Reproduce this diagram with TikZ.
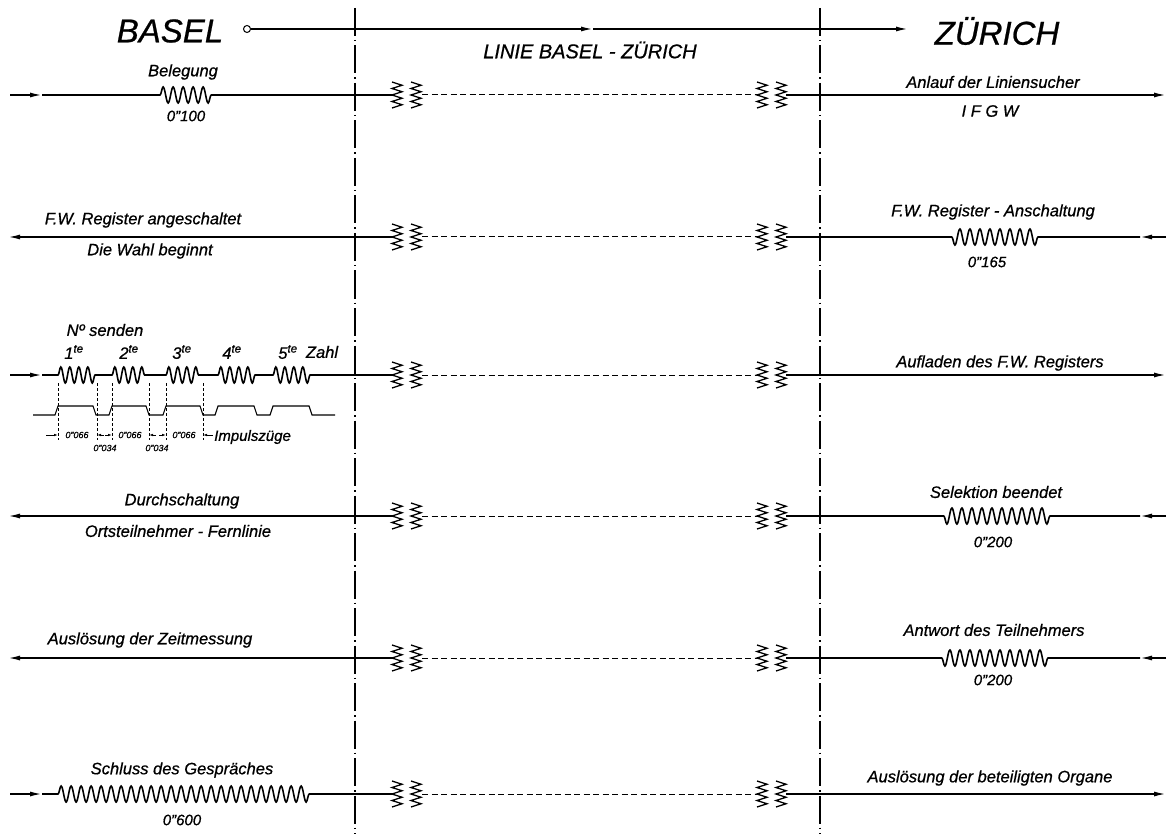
\documentclass[tikz,border=0pt]{standalone}
\usepackage{fontspec}
\setmainfont{Liberation Sans}[ItalicFeatures={FakeBold=0.7}]
\usetikzlibrary{arrows.meta,decorations.pathmorphing,positioning}

\begin{document}
\begin{tikzpicture}[x=1pt,y=-1pt,
    wire/.style={line width=1.6pt},
    tipend/.style={-{Latex[length=12pt,width=5pt]}},
    winding/.style={decoration={snake,segment length=10pt,amplitude=8pt}},
    shortwinding/.style={decoration={snake,segment length=9pt,amplitude=8pt}},
    border/.style={line width=1.1pt,dash pattern=on 28pt off 4pt on 1.5pt off 4pt},
    big/.style={font=\fontsize{33}{36}\selectfont\itshape,inner sep=0pt},
    head/.style={font=\fontsize{20}{24}\selectfont\itshape,inner sep=0pt},
    lab/.style={font=\fontsize{16.5}{19}\selectfont\itshape,inner sep=0pt},
    val/.style={font=\fontsize{15}{18}\selectfont\itshape,inner sep=0pt},
    dim/.style={font=\fontsize{9}{10}\selectfont\itshape,inner sep=0pt},
    spring/.pic={\draw[line width=1.3pt] (-5,-13) -- (5,-9.75) -- (-5,-6.5) -- (5,-3.25)
      -- (-5,0) -- (5,3.25) -- (-5,6.5) -- (5,9.75) -- (-5,13);}]
\useasboundingbox (0,0) rectangle (1169,834);

% Grenzen
\coordinate (s1t) at (355,8); \coordinate (s1b) at (355,834);
\coordinate (s2t) at (820,8); \coordinate (s2b) at (820,834);
\draw[border] (s1t) -- (s1b);
\draw[border] (s2t) -- (s2b);

% Kopf
\node[big] (basel) at (170,31) {BASEL};
\node[big] (zuerich) at (997,31) {ZÜRICH};
\node[head] (linie) at (590,50) {LINIE BASEL - ZÜRICH};
\coordinate (o) at (247,29);
\coordinate (om) at (593,29);
\coordinate (oe) at (908,29);
\draw[line width=1pt] (o) circle (3.5);
\draw[wire,tipend] ([xshift=3.5pt]o) -- (om);
\draw[wire,tipend] (om) -- (oe);

% Linie mit Übertragern
\foreach \y [count=\r] in {95,237,375,516,658,794} {
  \coordinate (l\r) at (10,\y);
  \coordinate (zl\r) at (392,\y);
  \coordinate (dl\r) at (422,\y);
  \coordinate (dr\r) at (757,\y);
  \coordinate (zr\r) at (786,\y);
  \coordinate (r\r) at (1166,\y);
  \pic at (397,\y) {spring};
  \pic at (416,\y) {spring};
  \pic at (762,\y) {spring};
  \pic at (781,\y) {spring};
  \draw[line width=1pt,dash pattern=on 6pt off 3.5pt] (dl\r) -- (dr\r);
}

% 1: Belegung
\coordinate (a1) at (42,95);
\coordinate (c1a) at (160,95); \coordinate (c1b) at (215,95);
\draw[wire,tipend] (l1) -- (a1);
\draw[wire] (a1) -- (c1a) decorate[winding]{-- (c1b)} -- (zl1);
\draw[wire,tipend] (zr1) -- (r1);
\node[lab] (belegung) at (183,72) {Belegung};
\node[val] (t100) at (186,116) {0''100};
\node[lab] (anlauf) at (993,82) {Anlauf der Liniensucher};
\node[lab] (ifgw) at (990,111) {I F G W};

% 2: Register
\coordinate (a2) at (1140,237);
\coordinate (c2a) at (1038,237); \coordinate (c2b) at (947,237);
\draw[wire,tipend] (zl2) -- (8,237) coordinate (e2);
\draw[wire,tipend] (r2) -- (a2);
\draw[wire] (a2) -- (c2a) decorate[winding]{-- (c2b)} -- (zr2);
\node[lab] (angesch) at (143,220) {F.W. Register angeschaltet};
\node[lab] (wahl) at (150,251) {Die Wahl beginnt};
\node[lab] (ansch) at (993,212) {F.W. Register - Anschaltung};
\node[val] (t165) at (987,262) {0''165};

% 3: Nummer senden
\coordinate (a3) at (42,375);
\foreach \p/\q [count=\i] in {58/97,112/149,166/203,218/257,273/312} {
  \coordinate (p\i a) at (\p,375);
  \coordinate (p\i b) at (\q,375);
}
\draw[wire,tipend] (l3) -- (a3);
\draw[wire] (a3) -- (p1a) decorate[shortwinding]{-- (p1b)} -- (p2a) decorate[shortwinding]{-- (p2b)}
  -- (p3a) decorate[shortwinding]{-- (p3b)} -- (p4a) decorate[shortwinding]{-- (p4b)}
  -- (p5a) decorate[shortwinding]{-- (p5b)} -- (zl3);
\draw[wire,tipend] (zr3) -- (r3);
\node[lab] (senden) at (105,330) {Nº senden};
\foreach \x/\n in {74/1,129/2,182/3,232/4,288/5}
  \node[lab] (nr\n) at (\x,352) {\n\textsuperscript{te}};
\node[lab] (zahl) at (322,352) {Zahl};
\node[lab] (aufladen) at (1000,363) {Aufladen des F.W. Registers};
% Impulse
\draw[line width=1.1pt] (33,415) -- (55,415) -- (58,406) -- (93,406) -- (96,415) -- (109,415)
  -- (112,406) -- (146,406) -- (149,415) -- (163,415) -- (166,406) -- (200,406) -- (203,415)
  -- (215,415) -- (218,406) -- (254,406) -- (257,415) -- (270,415) -- (273,406) -- (309,406)
  -- (312,415) -- (335,415);
\foreach \x in {58,97,112,149,166,203}
  \draw[line width=0.7pt,dash pattern=on 3pt off 2pt] (\x,383) -- (\x,440);
\foreach \p/\q in {46/58,104/97,105/112,156/149,159/166,213/203}
  \draw[line width=0.7pt,-{Latex[length=4pt,width=2.5pt]}] (\p,435) -- (\q,435);
\foreach \x [count=\i] in {77,130,184}
  \node[dim] (d\i) at (\x,435) {0''066};
\foreach \x [count=\i] in {105,157}
  \node[dim] (g\i) at (\x,448) {0''034};
\node[lab,font=\fontsize{15}{18}\selectfont\itshape,anchor=west] (impuls) at (214,437) {Impulszüge};

% 4: Durchschaltung
\coordinate (a4) at (1140,516);
\coordinate (c4a) at (1050,516); \coordinate (c4b) at (940,516);
\draw[wire,tipend] (zl4) -- (8,516) coordinate (e4);
\draw[wire,tipend] (r4) -- (a4);
\draw[wire] (a4) -- (c4a) decorate[winding]{-- (c4b)} -- (zr4);
\node[lab] (durch) at (182,501) {Durchschaltung};
\node[lab] (orts) at (178,531) {Ortsteilnehmer - Fernlinie};
\node[lab] (selektion) at (996,492) {Selektion beendet};
\node[val] (t200a) at (993,542) {0''200};

% 5: Antwort
\coordinate (a5) at (1140,658);
\coordinate (c5a) at (1048,658); \coordinate (c5b) at (940,658);
\draw[wire,tipend] (zl5) -- (8,658) coordinate (e5);
\draw[wire,tipend] (r5) -- (a5);
\draw[wire] (a5) -- (c5a) decorate[winding]{-- (c5b)} -- (zr5);
\node[lab] (zeit) at (150,640) {Auslösung der Zeitmessung};
\node[lab] (antwort) at (994,630) {Antwort des Teilnehmers};
\node[val] (t200b) at (993,680) {0''200};

% 6: Schluss
\coordinate (a6) at (42,794);
\coordinate (c6a) at (58,794); \coordinate (c6b) at (313,794);
\draw[wire,tipend] (l6) -- (a6);
\draw[wire] (a6) -- (c6a) decorate[winding]{-- (c6b)} -- (zl6);
\draw[wire,tipend] (zr6) -- (r6);
\node[lab] (schluss) at (182,770) {Schluss des Gespräches};
\node[val] (t600) at (182,820) {0''600};
\node[lab] (organe) at (990,778) {Auslösung der beteiligten Organe};
\end{tikzpicture}
\end{document}
